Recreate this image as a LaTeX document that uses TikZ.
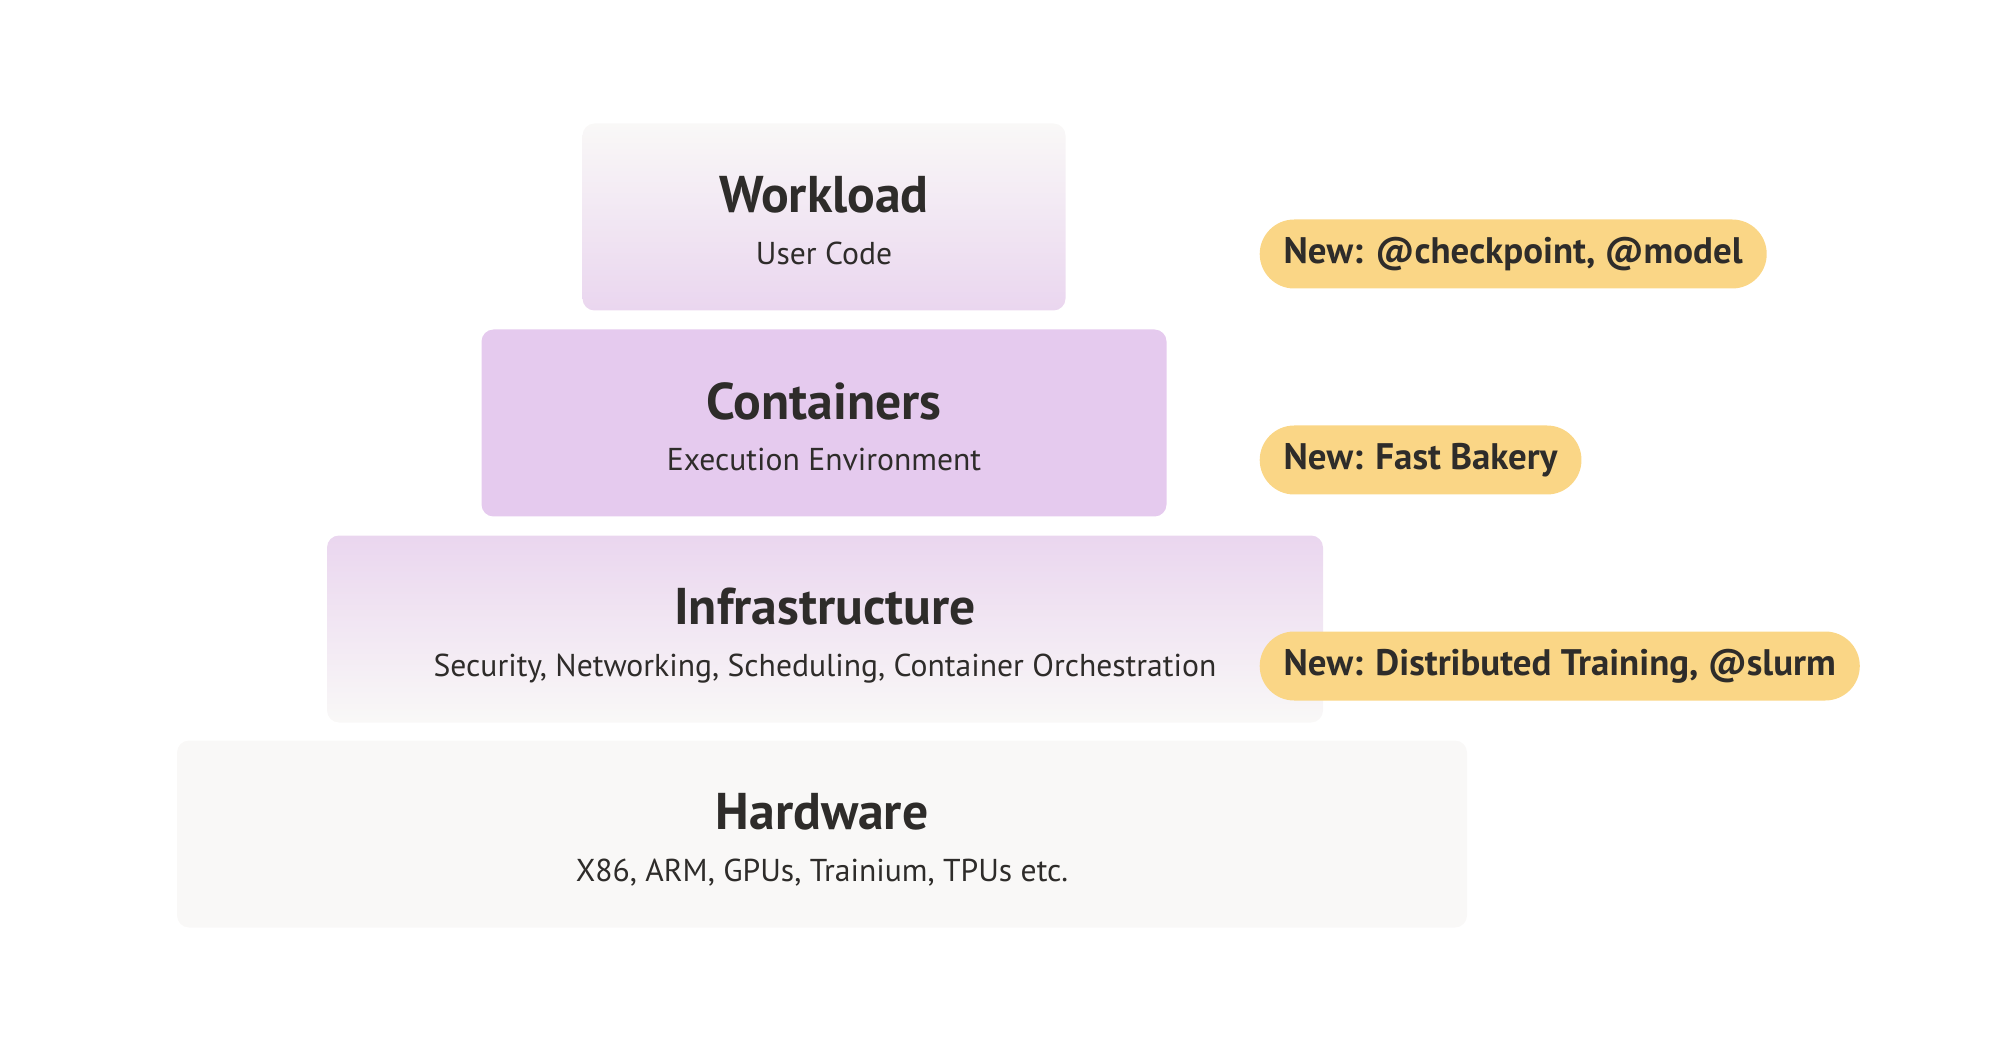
\documentclass[tikz,border=0pt]{standalone}
\usepackage{fontspec}
\setmainfont{PT Sans}
\usetikzlibrary{positioning}
\definecolor{ink}{HTML}{2E2C2A}
\definecolor{sand}{HTML}{F9F8F7}
\definecolor{lilac}{HTML}{E5CAEE}
\definecolor{lilacpale}{HTML}{EAD6EF}
\definecolor{butter}{HTML}{FAD686}
\tikzset{
  layer/.style={
    rounded corners=0.12cm, minimum height=1.87cm, inner sep=0pt,
  },
  fade/.style={layer, top color=sand, middle color=sand!85!lilacpale, bottom color=lilacpale},
  rise/.style={layer, top color=lilacpale, middle color=sand!80!lilacpale, bottom color=sand},
  title/.style={font=\fontsize{14.7}{17}\selectfont\bfseries, text=ink},
  sub/.style={font=\fontsize{9}{11}\selectfont, text=ink, text height=1.6ex, text depth=0.4ex},
  pill/.style={
    fill=butter, rounded corners=0.345cm, minimum height=0.69cm,
    inner xsep=0.24cm, inner ysep=0pt, anchor=west,
    font=\fontsize{10.5}{13}\selectfont\bfseries, text=ink,
  },
}

\begin{document}
\begin{tikzpicture}

\useasboundingbox (0,0) rectangle (20,10.5);
\coordinate (col) at (12.59,0);

% stack of layers, top to bottom
\node[fade, minimum width=4.83cm] (work) at (8.24,8.33) {};
\node[layer, fill=lilac, minimum width=6.85cm] (cont) at (8.24,6.27) {};
\node[rise, minimum width=9.96cm] (infra) at (8.25,4.21) {};
\node[layer, fill=sand, minimum width=12.9cm] (hw) at (8.22,2.16) {};

\node[title] (workt) at ([yshift=0.22cm]work.center) {Workload};
\node[sub] (works) at ([yshift=-0.37cm]work.center) {User Code};
\node[title] (contt) at ([yshift=0.22cm]cont.center) {Containers};
\node[sub] (conts) at ([yshift=-0.37cm]cont.center) {Execution Environment};
\node[title] (infrat) at ([yshift=0.22cm]infra.center) {Infrastructure};
\node[sub] (infras) at ([yshift=-0.37cm]infra.center) {Security, Networking, Scheduling, Container Orchestration};
\node[title] (hwt) at ([yshift=0.22cm]hw.center) {Hardware};
\node[sub] (hws) at ([yshift=-0.37cm]hw.center) {X86, ARM, GPUs, Trainium, TPUs etc.};

% what is new, level with each subtitle
\node[pill] (newwork) at (col |- works) {New: @checkpoint, @model};
\node[pill] (newcont) at (col |- conts) {New: Fast Bakery};
\node[pill] (newinfra) at (col |- infras) {New: Distributed Training, @slurm};

\end{tikzpicture}
\end{document}
